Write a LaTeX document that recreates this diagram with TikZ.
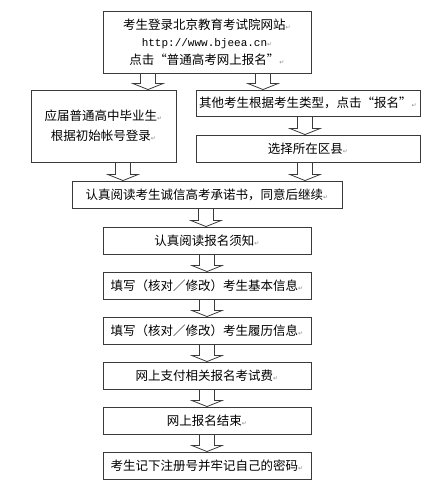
\documentclass[tikz,border=0pt]{standalone}
\definecolor{frm}{HTML}{3A3A3A}
\definecolor{pmk}{HTML}{8C8C8C}
\usepackage{fontspec}
\newfontfamily\cjk[CharacterWidth=Full]{Noto Sans CJK SC}
\newfontfamily\urlfont{Liberation Mono}
\newfontfamily\symfont{DejaVu Sans}
\usetikzlibrary{calc}
% paragraph mark after each line
\newcommand{\pmark}{{\symfont\fontsize{6}{6}\selectfont\color{pmk}↵}}
% hollow block arrow from node #1 down to node #2, shifted by #3
\newcommand{\blockarrow}[3]{%
	\draw[hollow] let \p1=($(#1.south)+(#3,0)$), \p2=(#2.north) in
	(\x1-7.5pt,\y1) -- (\x1-7.5pt,\y2+6pt) -- (\x1-15pt,\y2+6pt) -- (\x1,\y2)
	-- (\x1+15pt,\y2+6pt) -- (\x1+7.5pt,\y2+6pt) -- (\x1+7.5pt,\y1);}

\begin{document}
\begin{tikzpicture}[x=1pt,y=-1pt,
	box/.style={draw=frm, line width=0.9pt, rectangle, align=center, inner xsep=1pt,
		minimum height=27pt, font=\cjk\fontsize{12.5}{17.5}\selectfont},
	hollow/.style={draw=frm, line width=0.8pt, line join=miter}]
	\useasboundingbox (0,0) rectangle (442,500);
	\node[box, minimum width=208pt, minimum height=62pt] (top) at (207,42)
	{考生登录北京教育考试院网站\pmark\\
		{\urlfont\fontsize{11}{17.5}\selectfont http://www.bjeea.cn}\pmark\\
		点击“普通高考网上报名”\pmark};
	\node[box, minimum width=145pt, minimum height=72pt] (fresh) at (103.5,126)
	{应届普通高中毕业生\pmark\\[2.5pt] 根据初始帐号登录\pmark};
	\node[box, minimum width=224pt, minimum height=26pt] (other) at (308,103)
	{其他考生根据考生类型，点击“报名”\pmark};
	\node[box, minimum width=224pt] (county) at (308,148.5) {选择所在区县\pmark};
	\node[box, minimum width=270pt] (pledge) at (207,194.5)
	{认真阅读考生诚信高考承诺书，同意后继续\pmark};
	%main chain
	\foreach \t [count=\i from 5] in {认真阅读报名须知, 填写（核对／修改）考生基本信息,
		填写（核对／修改）考生履历信息, 网上支付相关报名考试费, 网上报名结束,
		考生记下注册号并牢记自己的密码}
	\node[box, minimum width=208pt] (s\i) at (207,{240.5+45*(\i-5)}) {\t\pmark};
	%arrows
	\blockarrow{top}{fresh}{-59}
	\blockarrow{top}{other}{56}
	\blockarrow{other}{county}{-3}
	\blockarrow{fresh}{pledge}{19.5}
	\blockarrow{county}{pledge}{-3}
	\blockarrow{pledge}{s5}{-1}
	\foreach \a/\b in {s5/s6, s6/s7, s7/s8, s8/s9, s9/s10}
	{\blockarrow{\a}{\b}{0}}
\end{tikzpicture}
\end{document}
